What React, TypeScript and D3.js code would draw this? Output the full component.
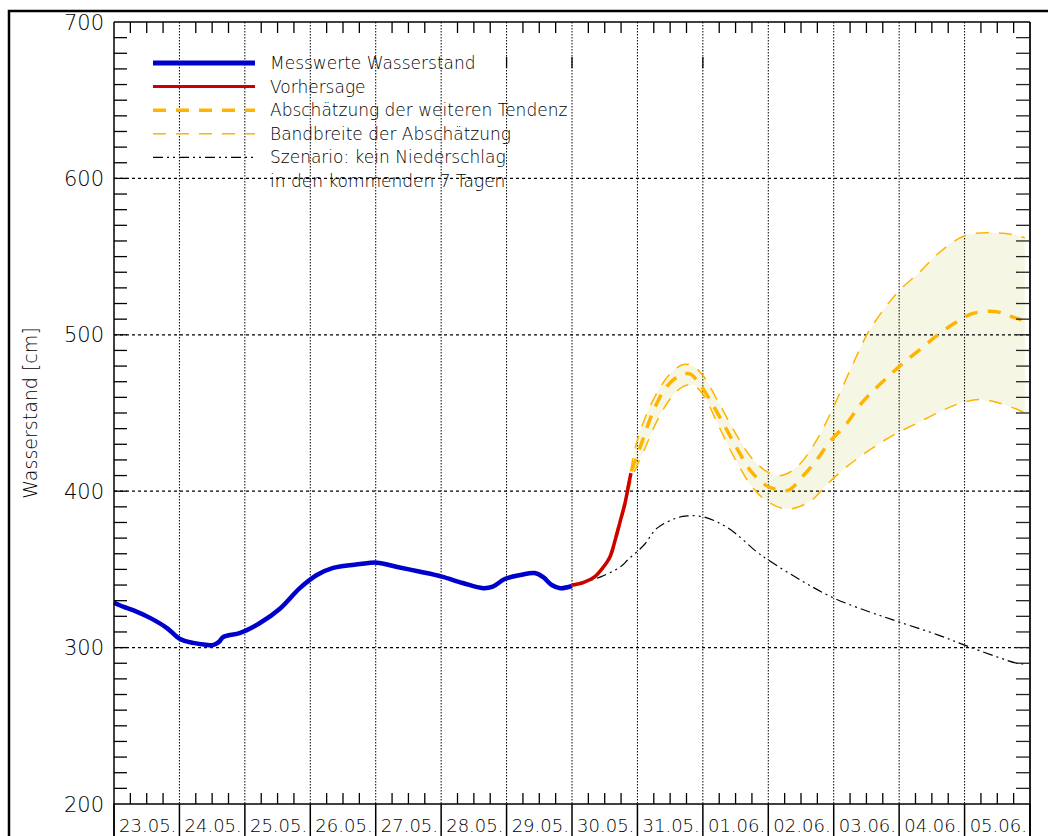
import React from "react";
import * as d3 from "d3";

// x values are days since 23.05. 00:00
const dayLabels = ["23.05.", "24.05.", "25.05.", "26.05.", "27.05.", "28.05.", "29.05.", "30.05.", "31.05.", "01.06.", "02.06.", "03.06.", "04.06.", "05.06."];
const yTicks = [200, 300, 400, 500, 600, 700];

const measured: [number, number][] = [
  [0, 328.7], [0.15, 326], [0.29, 324], [0.55, 319], [0.81, 312.5], [1.01, 305.5], [1.21, 303], [1.4, 301.8], [1.51, 301.6],
  [1.6, 303.5], [1.67, 306.8], [1.93, 309.4], [2.23, 315.7], [2.54, 325], [2.84, 338], [3.1, 346.4], [3.35, 351],
  [3.76, 353.4], [4.02, 354.3], [4.33, 351.5], [4.68, 348.5], [5.01, 345.4], [5.33, 341.3], [5.64, 338],
  [5.79, 339], [5.98, 344], [6.21, 346.4], [6.43, 347.7], [6.56, 345], [6.69, 340], [6.82, 338], [7.0, 339.4],
];

const forecast: [number, number][] = [
  [7.0, 340], [7.17, 341.5], [7.35, 345.4], [7.47, 351], [7.58, 358], [7.66, 368.8], [7.73, 379.7],
  [7.81, 392.3], [7.86, 402.9], [7.9, 411.6],
];

const tendency: [number, number][] = [
  [7.0, 340], [7.17, 341.5], [7.35, 345.4], [7.47, 351], [7.58, 358], [7.66, 368.8], [7.73, 379.7],
  [7.81, 392.3], [7.86, 402.9], [7.9, 411.6], [8.01, 424.4], [8.08, 432.7], [8.25, 452], [8.45, 467],
  [8.65, 474], [8.8, 475], [8.96, 468], [9.25, 448], [9.5, 429], [9.75, 412], [10.0, 403],
  [10.3, 400.5], [10.52, 409.3], [10.74, 420], [10.94, 431.7], [11.2, 443.4], [11.4, 455], [11.63, 465.3],
  [11.86, 474.3], [12.06, 481.9], [12.34, 491.3], [12.59, 499.9], [12.85, 507.5], [13.13, 513.7],
  [13.49, 514.8], [13.64, 512.7], [13.87, 509.5],
];

const bandUpper: [number, number][] = [
  [7.0, 340], [7.35, 345.4], [7.58, 358], [7.73, 379.7], [7.86, 402.9], [7.95, 425], [8.1, 445], [8.3, 463],
  [8.5, 475], [8.7, 481], [8.85, 480], [9.0, 474], [9.25, 456], [9.5, 437], [9.75, 421], [10.0, 412],
  [10.2, 410], [10.45, 416], [10.74, 432.7], [11.02, 456], [11.3, 482], [11.52, 501],
  [11.76, 516], [12.01, 528.6], [12.32, 540.3], [12.57, 551], [12.83, 559.5], [13.03, 563.8], [13.34, 565.3],
  [13.59, 564.9], [13.77, 563.8], [13.92, 562],
];

const bandLower: [number, number][] = [
  [7.0, 340], [7.35, 345.4], [7.58, 358], [7.73, 379.7], [7.86, 400], [7.95, 412], [8.1, 426], [8.3, 445],
  [8.5, 459], [8.7, 467], [8.85, 468], [9.0, 462], [9.25, 441], [9.5, 420], [9.75, 403], [10.0, 393],
  [10.3, 388.6], [10.63, 393.3], [10.89, 404], [11.14, 413.6], [11.4, 422],
  [11.66, 429.5], [11.96, 437], [12.27, 443.4], [12.62, 450.8], [12.93, 456.2], [13.24, 458.7],
  [13.54, 456.2], [13.8, 452.4], [13.92, 450.2],
];

const scenario: [number, number][] = [
  [7.0, 340], [7.2, 342], [7.45, 345.4], [7.75, 352], [7.85, 356], [8.1, 365.6], [8.3, 376.4], [8.6, 382.9],
  [8.76, 384.2], [9.0, 383.7], [9.25, 379.7], [9.5, 373], [9.8, 362], [10.0, 356], [10.5, 343], [11.0, 331.7],
  [11.55, 322.8], [12.0, 316.4], [12.6, 308], [13.0, 301.6], [13.5, 294], [13.8, 290], [13.95, 289.5],
];

const legendItems = [
  { label: "Messwerte Wasserstand", color: "#0000cc", width: 5, dash: "" },
  { label: "Vorhersage", color: "#cc0000", width: 3, dash: "" },
  { label: "Abschätzung der weiteren Tendenz", color: "#ffb400", width: 3.5, dash: "13,10" },
  { label: "Bandbreite der Abschätzung", color: "#ffb400", width: 1.5, dash: "13,10" },
  { label: "Szenario: kein Niederschlag", color: "#000", width: 1.2, dash: "10,4,2,4,2,4" },
];
const legendExtra = "in den kommenden 7 Tagen";

const W = 1048, H = 836;
const L = 114, R = 1030, T = 22, B = 804;
const font = "'DejaVu Sans', sans-serif";
const fw = 200;

export default function App() {
  const x = d3.scaleLinear().domain([0, 14]).range([L, R]);
  const y = d3.scaleLinear().domain([200, 700]).range([B, T]);
  const curve = d3.curveCatmullRom.alpha(0.5);
  const line = d3.line<[number, number]>().x(d => x(d[0])).y(d => y(d[1])).curve(curve);

  const bandXs = Array.from(new Set([...bandUpper.map(d => d[0]), ...bandLower.map(d => d[0])])).sort((a, b) => a - b);
  const interp = (arr: [number, number][], t: number) =>
    d3.scaleLinear().domain(arr.map(d => d[0])).range(arr.map(d => d[1]))(t);
  const bandData = bandXs.map(t => ({ t, u: interp(bandUpper, t), l: interp(bandLower, t) }));
  const area = d3.area<{ t: number; u: number; l: number }>().x(d => x(d.t)).y0(d => y(d.l)).y1(d => y(d.u)).curve(d3.curveMonotoneX);

  const days = d3.range(0, 15);
  const minorX: number[] = [];
  days.slice(0, 14).forEach(d => [0.25, 0.5, 0.75].forEach(f => minorX.push(d + f)));
  const minorY = d3.range(210, 700, 10);

  return (
    <svg width={W} height={H} style={{ position: "absolute", left: 0, top: 0, display: "block", background: "#fff" }}>
      <rect x={0} y={0} width={W} height={H} fill="#fff" />
      <rect x={9} y={11} width={W + 50} height={H + 50} fill="none" stroke="#000" strokeWidth={2.5} />

      <path d={area(bandData) || ""} fill="#f6f6e4" />

      {days.slice(1, 14).map(d => (
        <line key={"vg" + d} x1={x(d)} x2={x(d)} y1={T} y2={B} stroke="#000" strokeWidth={1} strokeDasharray="1.5,1.5" />
      ))}
      {[300, 400, 500, 600].map(v => (
        <line key={"hg" + v} x1={L} x2={R} y1={y(v)} y2={y(v)} stroke="#000" strokeWidth={1.3} strokeDasharray="3,3" />
      ))}

      <path d={line(bandUpper) || ""} fill="none" stroke="#ffb400" strokeWidth={1.5} strokeDasharray="13,10" />
      <path d={line(bandLower) || ""} fill="none" stroke="#ffb400" strokeWidth={1.5} strokeDasharray="13,10" />
      <path d={line(tendency) || ""} fill="none" stroke="#ffb400" strokeWidth={3.5} strokeDasharray="13,10" />
      <path d={line(scenario) || ""} fill="none" stroke="#000" strokeWidth={1.2} strokeDasharray="10,4,2,4,2,4" />
      <path d={line(measured) || ""} fill="none" stroke="#0000cc" strokeWidth={4.5} strokeLinejoin="round" />
      <path d={line(forecast) || ""} fill="none" stroke="#cc0000" strokeWidth={3.5} strokeLinejoin="round" />

      <line x1={L} x2={L} y1={T} y2={H} stroke="#000" strokeWidth={1.5} />
      <line x1={R} x2={R} y1={T} y2={H} stroke="#222" strokeWidth={2} />
      <line x1={L} x2={R} y1={T} y2={T} stroke="#000" strokeWidth={1.5} />
      <line x1={L} x2={R} y1={B} y2={B} stroke="#000" strokeWidth={1.5} />

      {minorY.map(v => (
        <g key={"yt" + v}>
          <line x1={L} x2={L + 13} y1={y(v)} y2={y(v)} stroke="#000" strokeWidth={1.3} />
          <line x1={R - 14} x2={R} y1={y(v)} y2={y(v)} stroke="#222" strokeWidth={1.3} />
        </g>
      ))}
      {minorX.map(t => (
        <g key={"xt" + t}>
          <line x1={x(t)} x2={x(t)} y1={T} y2={T + 11} stroke="#000" strokeWidth={1.3} />
          <line x1={x(t)} x2={x(t)} y1={B - 11} y2={B} stroke="#000" strokeWidth={1.3} />
        </g>
      ))}

      {yTicks.map(v => (
        <text key={"yl" + v} x={104} y={y(v) + 7.5} textAnchor="end" fontFamily={font} fontWeight={fw} fontSize={21} fill="#000">{v}</text>
      ))}
      <text transform={`translate(37,413) rotate(-90)`} textAnchor="middle" fontFamily={font} fontWeight={fw} fontSize={19} fill="#000">Wasserstand [cm]</text>

      {days.map(d => (
        <line key={"ds" + d} x1={x(d)} x2={x(d)} y1={B} y2={H} stroke="#000" strokeWidth={1.5} />
      ))}
      {dayLabels.map((lab, i) => (
        <text key={lab} x={(x(i) + x(i + 1)) / 2 + 1} y={832} textAnchor="middle" fontFamily={font} fontWeight={fw} fontSize={18} fill="#000">{lab}</text>
      ))}

      {legendItems.map((it, i) => {
        const ly = 63 + i * 23.6;
        return (
          <g key={it.label}>
            <line x1={153} x2={255} y1={ly} y2={ly} stroke={it.color} strokeWidth={it.width} strokeDasharray={it.dash} />
            <text x={270} y={ly + 6} fontFamily={font} fontWeight={fw} fontSize={17} fill="#000">{it.label}</text>
          </g>
        );
      })}
      <text x={270} y={63 + 5 * 23.6 + 6} fontFamily={font} fontWeight={fw} fontSize={17} fill="#000">{legendExtra}</text>
      {[6, 7, 9].map(d => (
        <line key={"lm" + d} x1={x(d)} x2={x(d)} y1={57} y2={68} stroke="#000" strokeWidth={1.3} />
      ))}
    </svg>
  );
}
